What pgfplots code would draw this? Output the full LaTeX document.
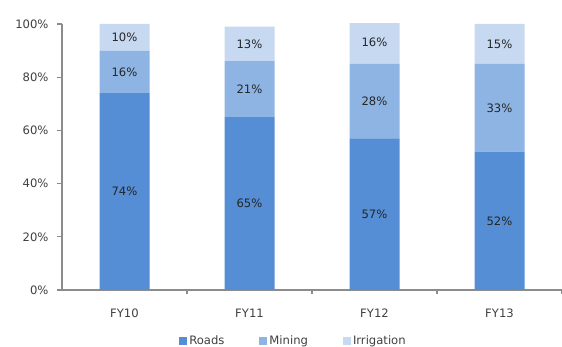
\documentclass[border=0pt]{standalone}
\usepackage{pgfplots}
\pgfplotsset{compat=1.18}
\usepackage{fontspec}
\setmainfont{DejaVu Sans}
\definecolor{roads}{HTML}{558ED5}
\definecolor{mining}{HTML}{8EB4E3}
\definecolor{irrig}{HTML}{C6D9F1}
\definecolor{axisgray}{HTML}{8C8C8C}
\definecolor{ticktext}{HTML}{404040}
\definecolor{bartext}{HTML}{262626}
\newcommand\chartfont{\fontsize{11.6bp}{13bp}\selectfont}
\begin{document}
\begin{tikzpicture}
\useasboundingbox (0,0) rectangle (562bp,347bp);
\pgfplotsset{
  frame/.style={
    at={(62bp,57bp)}, anchor=south west,
    scale only axis, width=500bp, height=266bp,
    xmin=-0.5, xmax=3.5, ymin=0, ymax=100,
    enlargelimits=false,
  },
}
% stacked shares
\begin{axis}[
  frame,
  ybar stacked, bar width=50bp,
  axis x line*=bottom, axis y line*=left,
  axis line style={draw=axisgray, line width=1.5bp, -},
  tick align=outside,
  major tick length=5bp,
  major tick style={draw=axisgray, line width=1.2bp},
  xtick={0,1,2,3},
  xticklabels={FY10,FY11,FY12,FY13},
  x tick style={draw=none},
  extra x ticks={0.5,1.5,2.5,3.5},
  extra x tick labels={},
  extra x tick style={major tick length=4bp, x tick style={draw=axisgray}},
  ytick={0,20,40,60,80,100},
  yticklabels={0\%,20\%,40\%,60\%,80\%,100\%},
  ticklabel style={font=\chartfont, text=ticktext},
  xticklabel style={text height=1.6ex, text depth=0.3ex, yshift=-10bp},
  yticklabel style={xshift=-5bp},
  legend columns=-1,
  legend style={
    at={(0.463,-0.192)}, anchor=center, draw=none, fill=none,
    font=\chartfont, text=ticktext,
    nodes={inner xsep=2.5bp},
    /tikz/every even column/.append style={column sep=32bp},
    /tikz/every odd column/.append style={column sep=0bp},
  },
  legend image code/.code={\fill[#1] (0bp,-4bp) rectangle (8bp,4bp);},
]
\addplot[fill=roads, draw=none] coordinates {(0,74) (1,65) (2,57) (3,52)};
\addplot[fill=mining, draw=none] coordinates {(0,16) (1,21) (2,28) (3,33)};
\addplot[fill=irrig, draw=none] coordinates {(0,10) (1,13) (2,16) (3,15)};
\legend{Roads,Mining,Irrigation}
\end{axis}
% value labels, centred in each segment
\begin{axis}[
  frame, hide axis, clip=false,
  nodes near coords,
  point meta=explicit symbolic,
  nodes near coords align=center,
  every node near coord/.append style={font=\chartfont, text=bartext},
]
\addplot[only marks, mark=none] coordinates {
  (0,37) [74\%] (1,32.5) [65\%] (2,28.5) [57\%] (3,26) [52\%]
  (0,82) [16\%] (1,75.5) [21\%] (2,71) [28\%] (3,68.5) [33\%]
  (0,95) [10\%] (1,92.5) [13\%] (2,93) [16\%] (3,92.5) [15\%]
};
\end{axis}
\end{tikzpicture}
\end{document}
